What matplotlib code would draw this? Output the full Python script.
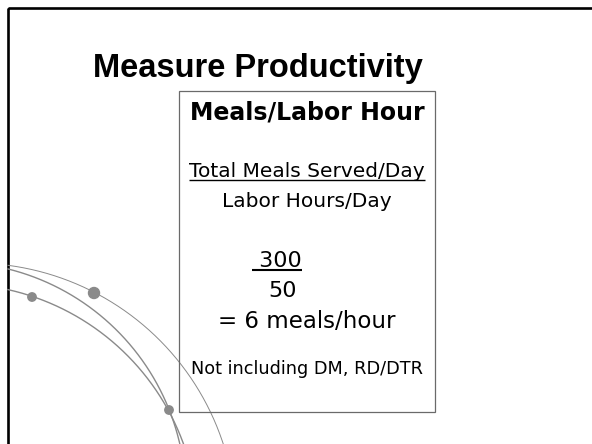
"""
Slide: Measure Productivity - meals per labor hour box with decorative arcs.
"""

import numpy as np
import matplotlib
matplotlib.use('Agg')
import matplotlib.pyplot as plt
from matplotlib.patches import Rectangle, Circle

W, H = 592, 444

title = 'Measure Productivity'
box_title = 'Meals/Labor Hour'
numerator_label = 'Total Meals Served/Day'
denominator_label = 'Labor Hours/Day'
numerator = ' 300'
denominator = '50'
result = '= 6 meals/hour'
footnote = 'Not including DM, RD/DTR'

# decorative arcs, points (pixel coords, y down)
arc_points = [
    [(8, 265), (94, 293), (180, 362), (223, 444)],
    [(8, 269), (100, 315), (169, 410), (180, 444)],
    [(8, 289), (32, 297), (100, 332), (169, 410), (183, 444)],
]
arc_widths = [0.7, 1.0, 1.0]
dots = [(94, 293, 5.5), (32, 297, 4.2), (169, 410, 4.2)]

GRAY = '#8a8a8a'


def fit_arc(pts, n=300):
    # least-squares circle, drawn between the first and last point
    p = np.array(pts, dtype=float)
    A = np.column_stack([p[:, 0], p[:, 1], np.ones(len(p))])
    b = -(p[:, 0]**2 + p[:, 1]**2)
    D, E, F = np.linalg.lstsq(A, b, rcond=None)[0]
    cx, cy = -D / 2, -E / 2
    r = np.sqrt(cx**2 + cy**2 - F)
    a0 = np.arctan2(p[0, 1] - cy, p[0, 0] - cx)
    a1 = np.arctan2(p[-1, 1] - cy, p[-1, 0] - cx)
    if a1 - a0 > np.pi:
        a1 -= 2 * np.pi
    elif a0 - a1 > np.pi:
        a1 += 2 * np.pi
    t = np.linspace(a0, a1, n)
    return cx + r * np.cos(t), cy + r * np.sin(t)


fig = plt.figure(figsize=(W / 100, H / 100), dpi=100)
ax = fig.add_axes([0, 0, 1, 1])
ax.set_xlim(0, W)
ax.set_ylim(H, 0)
ax.axis('off')

# slide frame (right and bottom edges fall outside the picture)
ax.add_patch(Rectangle((8, 8), W + 20, H + 20, fill=False, edgecolor='black', linewidth=1.9))

# arcs
for pts, lw in zip(arc_points, arc_widths):
    xs, ys = fit_arc(pts)
    ax.plot(xs, ys, color=GRAY, lw=lw, zorder=1)
for x, y, r in dots:
    ax.add_patch(Circle((x, y), r, color=GRAY, zorder=2))

# box
ax.add_patch(Rectangle((179, 91), 256, 321, fill=False, edgecolor='#6a6a6a', linewidth=0.9, zorder=3))

ax.text(257.5, 77, title, ha='center', va='baseline', fontsize=23.5,
        fontweight='bold', family='Liberation Sans')

cx = 307
ax.text(cx, 119.5, box_title, ha='center', va='baseline', fontsize=17, fontweight='bold', family='DejaVu Sans')
t_num = ax.text(cx, 177, numerator_label, ha='center', va='baseline', fontsize=14.5, family='DejaVu Sans')
ax.text(cx, 207, denominator_label, ha='center', va='baseline', fontsize=14.5, family='DejaVu Sans')
t_300 = ax.text(277, 267, numerator, ha='center', va='baseline', fontsize=16, family='DejaVu Sans')
ax.text(283, 297, denominator, ha='center', va='baseline', fontsize=16, family='DejaVu Sans')
ax.text(cx, 328, result, ha='center', va='baseline', fontsize=16.5, family='DejaVu Sans')
ax.text(cx, 374, footnote, ha='center', va='baseline', fontsize=12.7, family='DejaVu Sans')

# underlines from the rendered text extents
fig.canvas.draw()
inv = ax.transData.inverted()
for t, y, lw in [(t_num, 180.5, 1.0), (t_300, 269.5, 1.5)]:
    bb = t.get_window_extent()
    (x0, _), (x1, _) = inv.transform([(bb.x0, bb.y0), (bb.x1, bb.y1)])
    ax.plot([x0, x1], [y, y], color='black', lw=lw, solid_capstyle='butt')

fig.savefig('out.png', dpi=100)
